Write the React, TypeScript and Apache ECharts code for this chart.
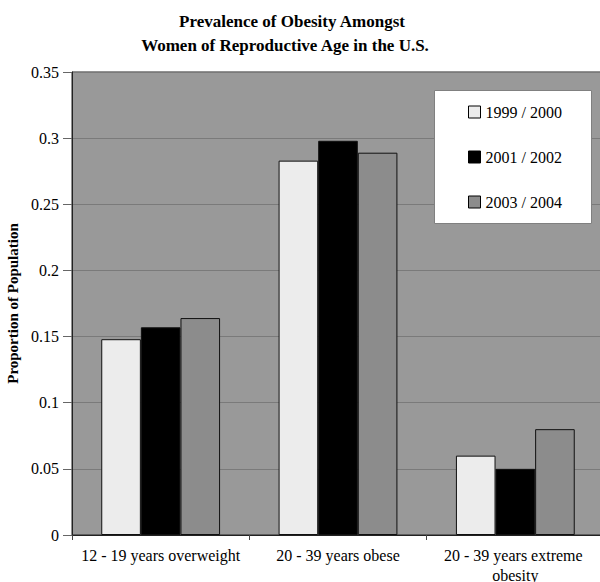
import React, { useEffect, useRef } from "react";
import * as echarts from "echarts";

const categories = [
  "12 - 19 years overweight",
  "20 - 39 years obese",
  "20 - 39 years extreme obesity",
];
const seriesNames = ["1999 / 2000", "2001 / 2002", "2003 / 2004"];
const values1999 = [0.148, 0.283, 0.06];
const values2001 = [0.157, 0.298, 0.05];
const values2003 = [0.164, 0.289, 0.08];
const yTicks = [0, 0.05, 0.1, 0.15, 0.2, 0.25, 0.3, 0.35];
const titleLines = [
  "Prevalence of Obesity Amongst",
  "Women of Reproductive Age in the U.S.",
];
const yAxisName = "Proportion of Population";

const FONT = "Liberation Serif";
const colors = ["#ececec", "#000000", "#8c8c8c"];

export default function App() {
  const ref = useRef<HTMLDivElement>(null);
  useEffect(() => {
    if (!ref.current) return;
    const chart = echarts.init(ref.current, null, { renderer: "svg" });
    const allValues = [values1999, values2001, values2003];
    chart.setOption({
      animation: false,
      backgroundColor: "#ffffff",
      textStyle: { fontFamily: FONT },
      graphic: [
        {
          type: "text",
          x: 292,
          y: 21,
          z: 10,
          style: {
            text: titleLines[0],
            fontSize: 17,
            fontWeight: "bold",
            fontFamily: FONT,
            fill: "#000",
            textAlign: "center",
            textVerticalAlign: "middle",
          },
        },
        {
          type: "text",
          x: 285,
          y: 45,
          z: 10,
          style: {
            text: titleLines[1],
            fontSize: 17,
            fontWeight: "bold",
            fontFamily: FONT,
            fill: "#000",
            textAlign: "center",
            textVerticalAlign: "middle",
          },
        },
        {
          type: "rect",
          z: 3,
          shape: { x: 434.5, y: 90.5, width: 157, height: 133 },
          style: { fill: "#ffffff", stroke: "#808080", lineWidth: 1 },
        },
      ],
      legend: {
        show: true,
        orient: "vertical",
        left: 468,
        top: 104,
        z: 5,
        padding: 0,
        itemGap: 29,
        itemWidth: 12,
        itemHeight: 12,
        icon: "rect",
        data: seriesNames,
        textStyle: { fontSize: 16, fontFamily: FONT, color: "#000", lineHeight: 16 },
        itemStyle: { borderColor: "#000", borderWidth: 1 },
      },
      grid: {
        left: 72,
        right: -4,
        top: 72,
        bottom: 47,
        show: true,
        containLabel: false,
        outerBoundsMode: "none",
        backgroundColor: "#999999",
        borderColor: "#222",
        borderWidth: 1,
      },
      xAxis: {
        type: "category",
        data: categories,
        axisLine: { show: true, lineStyle: { color: "#222", width: 1 } },
        axisTick: { show: true, length: 5, lineStyle: { color: "#444" } },
        axisLabel: {
          fontSize: 16,
          fontFamily: FONT,
          color: "#000",
          margin: 10,
          lineHeight: 20,
          width: 172,
          overflow: "break",
          interval: 0,
        },
        splitLine: { show: false },
      },
      yAxis: {
        type: "value",
        min: 0,
        max: yTicks[yTicks.length - 1],
        interval: 0.05,
        name: yAxisName,
        nameLocation: "middle",
        nameGap: 50,
        nameTextStyle: { fontSize: 15, fontWeight: "bold", fontFamily: FONT, color: "#000" },
        axisLine: { show: true, lineStyle: { color: "#222", width: 1 } },
        axisTick: { show: true, length: 9, inside: false, lineStyle: { color: "#666" } },
        axisLabel: {
          fontSize: 16,
          fontFamily: FONT,
          color: "#000",
          margin: 13,
          formatter: (v: number) => String(parseFloat(v.toFixed(2))),
        },
        splitLine: { show: true, lineStyle: { color: "#7a7a7a", width: 1 } },
      },
      series: seriesNames.map((name, i) => ({
        name,
        type: "bar",
        data: allValues[i],
        barGap: "0%",
        barCategoryGap: "33%",
        itemStyle: { color: colors[i], borderColor: "#111", borderWidth: 1 },
        z: 2,
      })),
    });
    return () => chart.dispose();
  }, []);
  return (
    <div
      ref={ref}
      style={{ position: "absolute", left: 0, top: 0, width: 600, height: 582 }}
    />
  );
}
